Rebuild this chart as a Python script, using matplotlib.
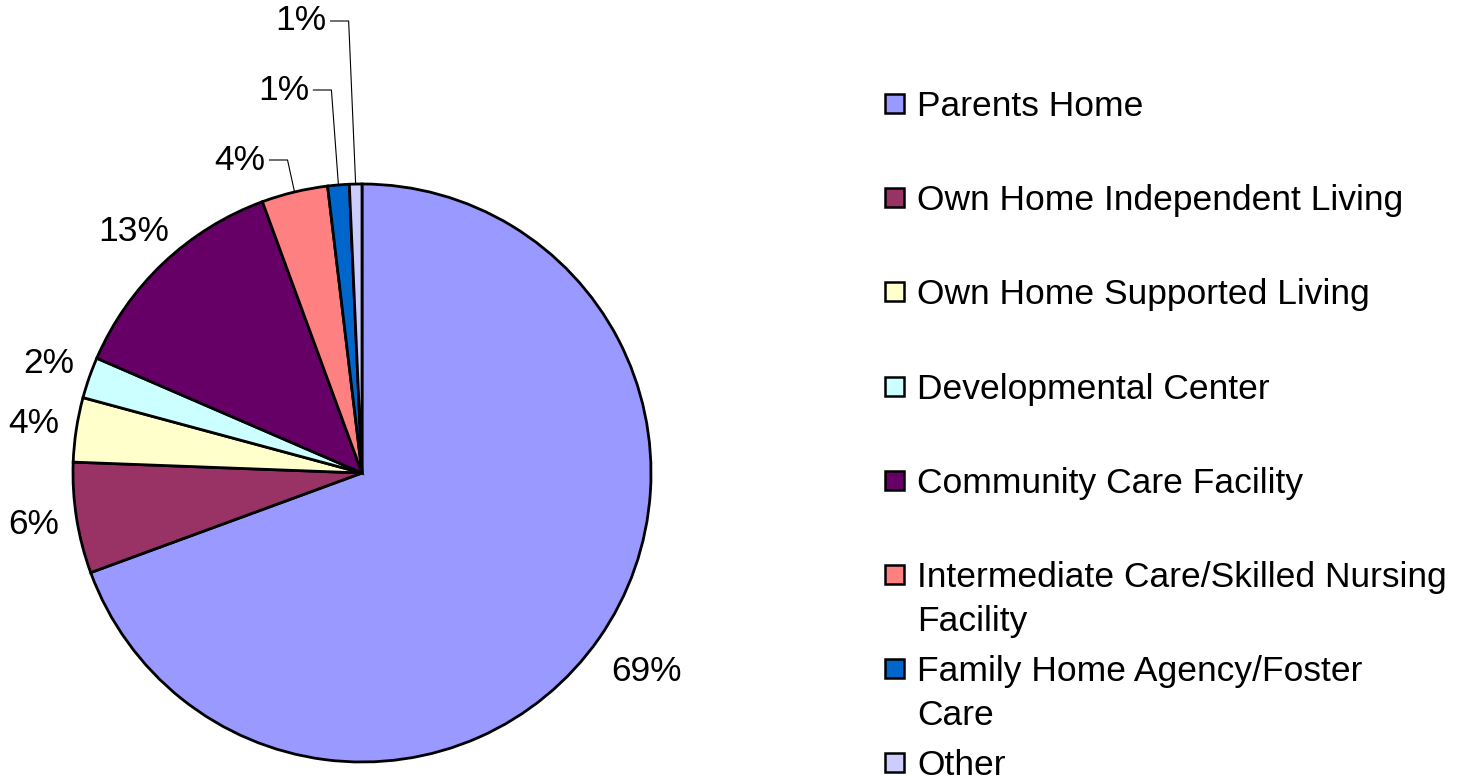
import numpy as np
import matplotlib
matplotlib.use("Agg")
import matplotlib.pyplot as plt
from matplotlib.patches import Rectangle

plt.rcParams['font.family'] = ['Liberation Sans', 'DejaVu Sans']

# Datos (porcentajes)
categories = ["Parents Home", "Own Home Independent Living", "Own Home Supported Living",
              "Developmental Center", "Community Care Facility",
              "Intermediate Care/Skilled Nursing\nFacility", "Family Home Agency/Foster\nCare",
              "Other"]
values = [69.4, 6.2, 3.6, 2.3, 12.9, 3.7, 1.2, 0.7]
colors = ["#9999FF", "#993366", "#FFFFCC", "#CCFFFF", "#660066", "#FF8080", "#0066CC", "#CCCCFF"]

# Etiquetas con línea guía (índices y altura del texto)
leader_idx = [5, 6, 7]
leader_y = [620, 690, 759]

W, H = 1466, 780
fig = plt.figure(figsize=(W / 100, H / 100), dpi=100)
ax = fig.add_axes([0, 0, 1, 1])

cx, cy, R = 362, 307, 289
wedges, _ = ax.pie(values, colors=colors, startangle=90, counterclock=False,
                   center=(cx, cy), radius=R,
                   wedgeprops=dict(edgecolor="black", linewidth=2))
ax.set_xlim(0, W)
ax.set_ylim(0, H)
ax.set_aspect("equal")
ax.axis("off")

fs = 25.5
for i, w in enumerate(wedges):
    mid = np.deg2rad((w.theta1 + w.theta2) / 2)
    txt = f"{round(values[i]):.0f}%"
    if i in leader_idx:
        k = leader_idx.index(i)
        wx, wy = cx + R * np.cos(mid), cy + R * np.sin(mid)
        ty = leader_y[k]
        knee = wx - 7
        ax.plot([knee - 18, knee, wx], [ty, ty, wy], color="black", lw=0.8)
        ax.text(knee - 22, ty, txt, ha="right", va="center", fontsize=fs)
    else:
        d = 1.2 if i == 0 else 1.15
        ax.text(cx + d * R * np.cos(mid), cy + d * R * np.sin(mid), txt,
                ha="center", va="center", fontsize=fs)

# Leyenda manual
y0, step = H - 103, 94.2
for i, (lab, col) in enumerate(zip(categories, colors)):
    y = y0 - i * step
    ax.add_patch(Rectangle((885, y - 10), 19, 19, facecolor=col, edgecolor="black", lw=1.8))
    for j, line in enumerate(lab.split("\n")):
        ax.text(917, y - j * 44, line, ha="left", va="center_baseline", fontsize=fs)

plt.savefig("out.png", dpi=100)
